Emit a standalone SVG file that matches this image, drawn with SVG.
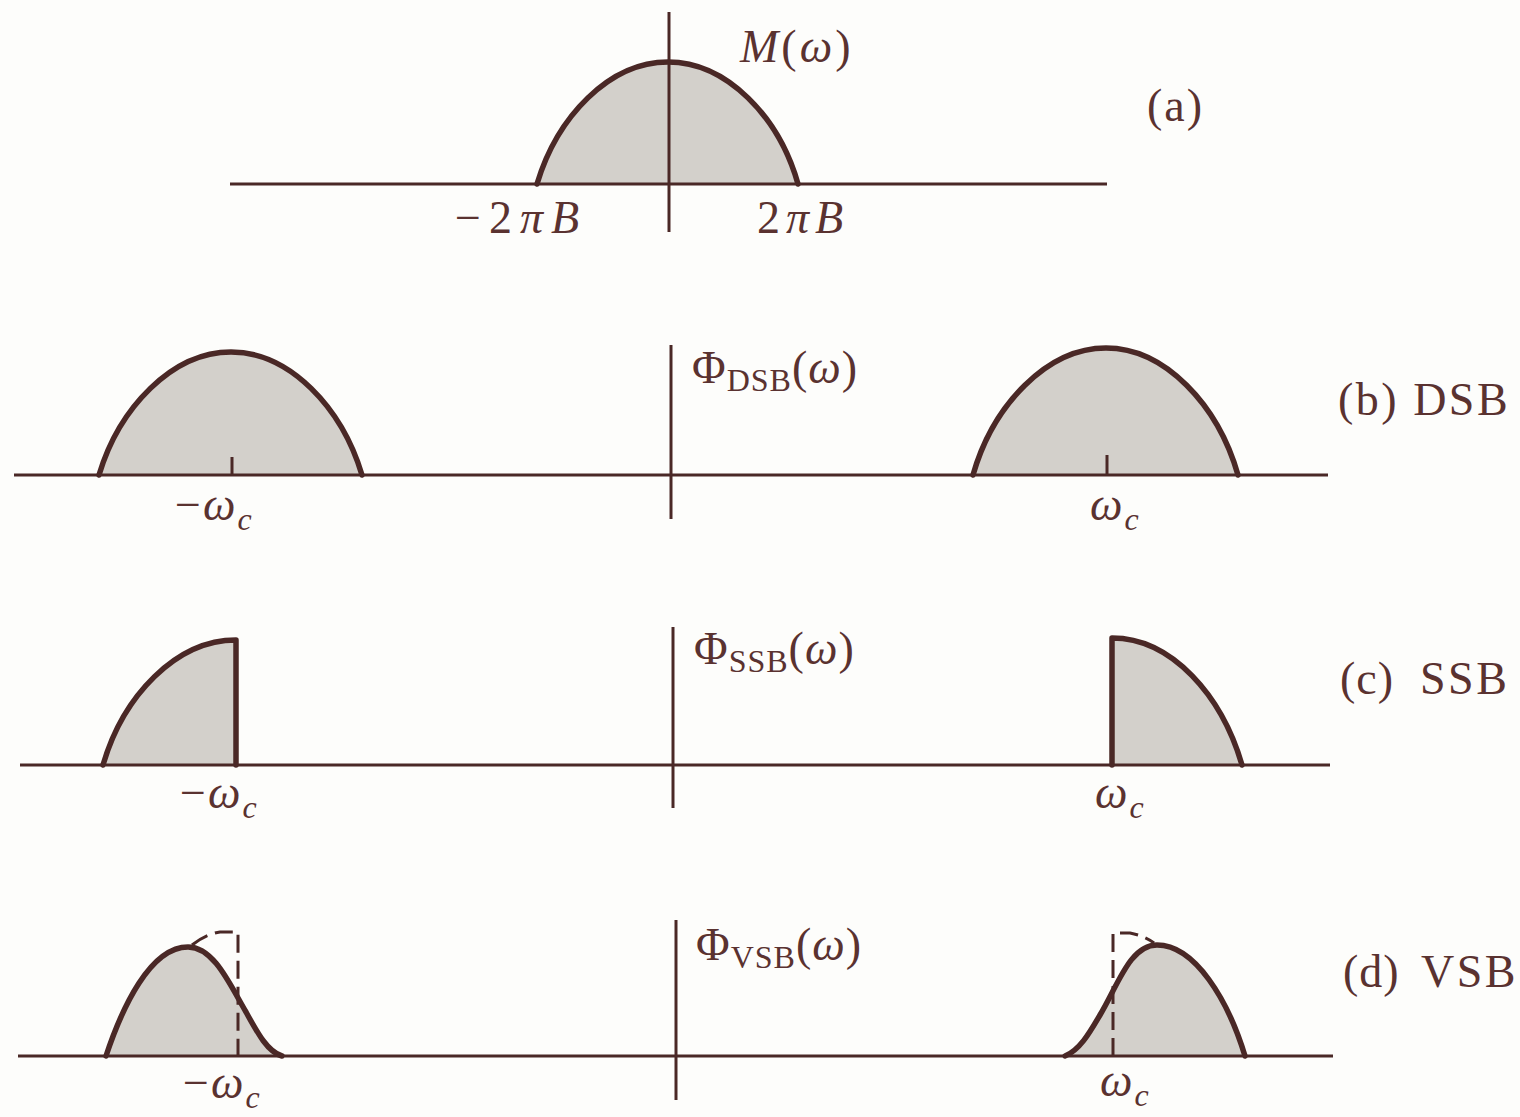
<svg xmlns="http://www.w3.org/2000/svg" width="1520" height="1117" viewBox="0 0 1520 1117">
<style>
.ax{stroke:#4a2826;stroke-width:3;fill:none}
.fl{fill:#d3d0cb;stroke:none}
.cv{stroke:#4a2826;stroke-width:5.5;fill:none;stroke-linejoin:round;stroke-linecap:round}
.ds{stroke:#4a2826;stroke-width:3;fill:none;stroke-dasharray:18 8}
.tk{stroke:#4a2826;stroke-width:3}
text{font-family:"Liberation Serif","Times New Roman",serif;fill:#5a3230;font-size:46px}
.it{font-style:italic}
.sub{font-size:32px}
</style>
<rect width="1520" height="1117" fill="#fdfdfb"/>
<g id="panel-a">
<path class="fl" d="M537,184 C557,117 609,62 668,62 C727,62 779,117 798,184 Z"/>
<path class="cv" d="M537,184 C557,117 609,62 668,62 C727,62 779,117 798,184"/>
<text x="740" y="62" letter-spacing="3"><tspan class="it">M</tspan>(<tspan class="it">ω</tspan>)</text>
<text x="1147" y="121" letter-spacing="2">(a)</text>
<text x="455" y="233" letter-spacing="8">−2<tspan class="it">π</tspan><tspan class="it">B</tspan></text>
<text x="757" y="233" letter-spacing="6">2<tspan class="it">π</tspan><tspan class="it">B</tspan></text>
</g>
<g id="panel-b">
<path class="fl" d="M99,475 C119,408 172,352 231,352 C290,352 342,408 362,475 Z"/>
<path class="cv" d="M99,475 C119,408 172,352 231,352 C290,352 342,408 362,475"/>
<path class="fl" d="M973,475 C993,405 1047,348 1106,348 C1165,348 1218,405 1238,475 Z"/>
<path class="cv" d="M973,475 C993,405 1047,348 1106,348 C1165,348 1218,405 1238,475"/>
<line class="tk" x1="232" y1="457" x2="232" y2="475"/>
<line class="tk" x1="1107" y1="455" x2="1107" y2="475"/>
<text x="692" y="383" letter-spacing="1">Φ<tspan class="sub" dy="8">DSB</tspan><tspan dy="-8">(</tspan><tspan class="it">ω</tspan>)</text>
<text x="175" y="520" letter-spacing="2">−<tspan class="it">ω</tspan><tspan class="it sub" dy="10">c</tspan></text>
<text x="1090" y="520" letter-spacing="2"><tspan class="it">ω</tspan><tspan class="it sub" dy="10">c</tspan></text>
<text x="1338" y="415" letter-spacing="2.5">(b) DSB</text>
</g>
<g id="panel-c">
<path class="fl" d="M103,765 C123,696 176,640 236,640 L236,765 Z"/>
<path class="cv" d="M103,765 C123,696 176,640 236,640 L236,765"/>
<path class="fl" d="M1112,765 L1112,638 C1172,638 1222,696 1242,765 Z"/>
<path class="cv" d="M1112,765 L1112,638 C1172,638 1222,696 1242,765"/>
<text x="694" y="664" letter-spacing="1">Φ<tspan class="sub" dy="8">SSB</tspan><tspan dy="-8">(</tspan><tspan class="it">ω</tspan>)</text>
<text x="180" y="808" letter-spacing="2">−<tspan class="it">ω</tspan><tspan class="it sub" dy="10">c</tspan></text>
<text x="1095" y="808" letter-spacing="2"><tspan class="it">ω</tspan><tspan class="it sub" dy="10">c</tspan></text>
<text x="1340" y="694" letter-spacing="1">(c)</text>
<text x="1420" y="694" letter-spacing="2.5">SSB</text>
</g>
<g id="panel-d">
<path class="fl" d="M106,1056 C122,1008 150,947 188,947 C214,947 230,985 246,1012 C258,1034 268,1052 282,1056 Z"/>
<path class="cv" d="M106,1056 C122,1008 150,947 188,947 C214,947 230,985 246,1012 C258,1034 268,1052 282,1056"/>
<path class="ds" d="M192,945 Q206,934 220,932 L238,932 L238,1056"/>
<path class="fl" d="M1065,1056 C1080,1050 1090,1032 1100,1015 C1118,985 1130,945 1157,945 C1195,945 1228,1000 1245,1056 Z"/>
<path class="cv" d="M1065,1056 C1080,1050 1090,1032 1100,1015 C1118,985 1130,945 1157,945 C1195,945 1228,1000 1245,1056"/>
<path class="ds" d="M1113,1056 L1113,933 L1130,933 Q1145,936 1154,943"/>
<text x="696" y="960" letter-spacing="1">Φ<tspan class="sub" dy="8">VSB</tspan><tspan dy="-8">(</tspan><tspan class="it">ω</tspan>)</text>
<text x="183" y="1098" letter-spacing="2">−<tspan class="it">ω</tspan><tspan class="it sub" dy="10">c</tspan></text>
<text x="1100" y="1096" letter-spacing="2"><tspan class="it">ω</tspan><tspan class="it sub" dy="10">c</tspan></text>
<text x="1343" y="987" letter-spacing="1">(d)</text>
<text x="1421" y="987" letter-spacing="2.5">VSB</text>
</g>
<g id="connectors">
<line class="ax" x1="230" y1="184" x2="1107" y2="184"/>
<line class="ax" x1="669" y1="12" x2="669" y2="232"/>
<line class="ax" x1="14" y1="475" x2="1328" y2="475"/>
<line class="ax" x1="671" y1="345" x2="671" y2="519"/>
<line class="ax" x1="20" y1="765" x2="1330" y2="765"/>
<line class="ax" x1="673" y1="627" x2="673" y2="808"/>
<line class="ax" x1="18" y1="1056" x2="1333" y2="1056"/>
<line class="ax" x1="676" y1="920" x2="676" y2="1100"/>
</g>
</svg>
